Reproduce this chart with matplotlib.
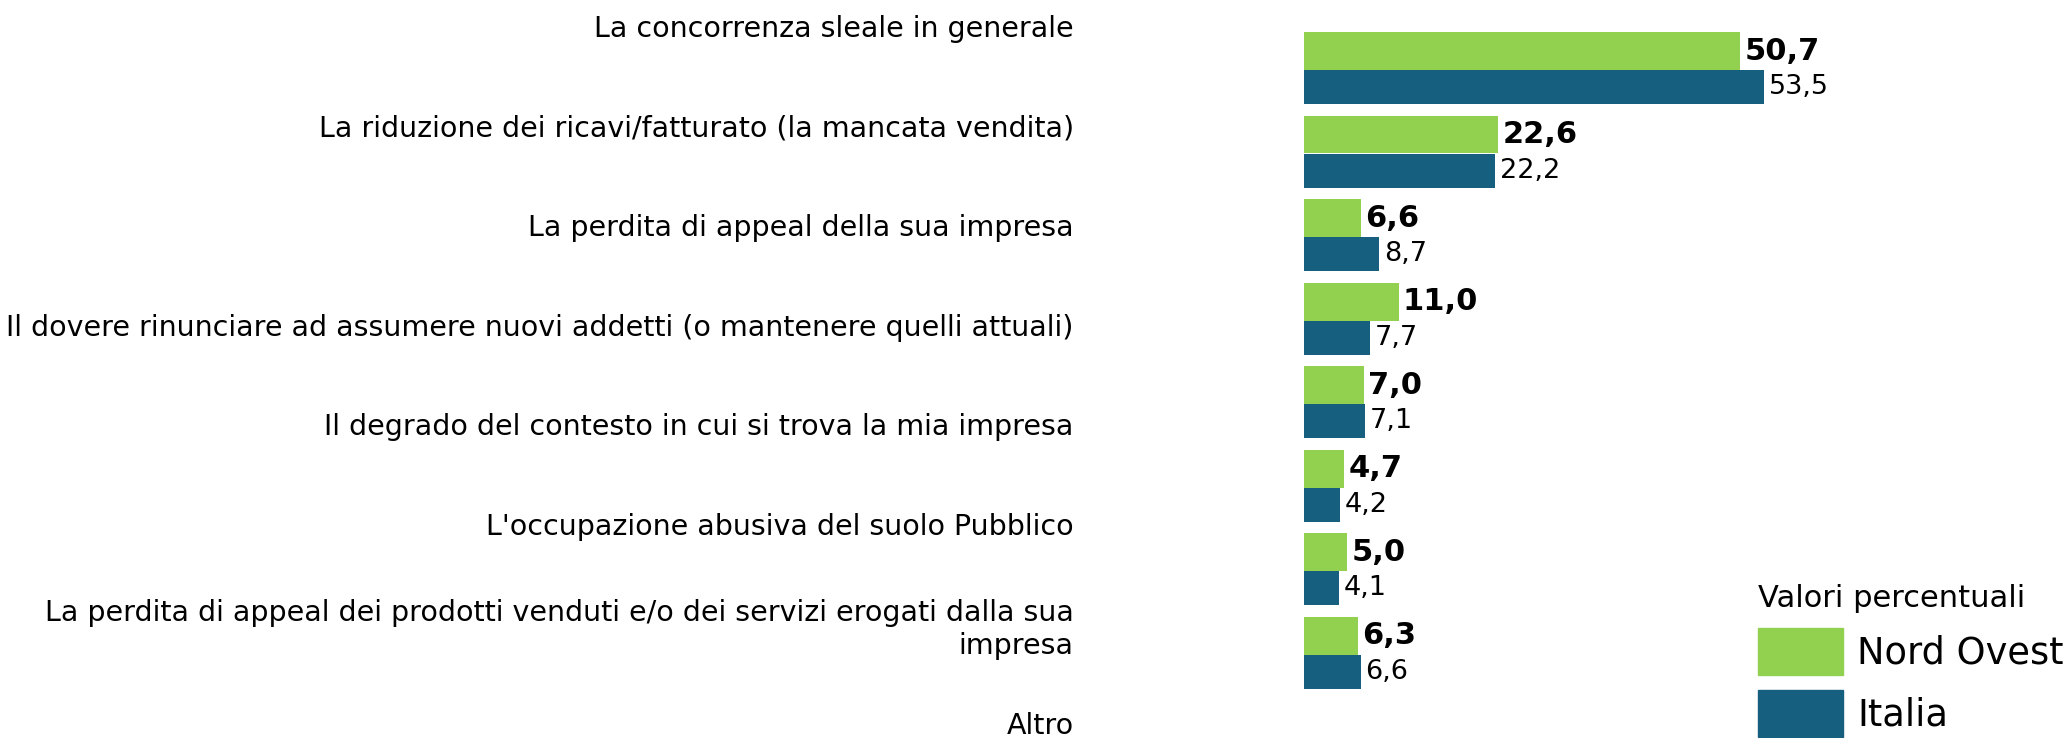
import matplotlib
matplotlib.use("Agg")
import matplotlib.pyplot as plt
from matplotlib.patches import Patch

categories = [
    "La concorrenza sleale in generale",
    "La riduzione dei ricavi/fatturato (la mancata vendita)",
    "La perdita di appeal della sua impresa",
    "Il dovere rinunciare ad assumere nuovi addetti (o mantenere quelli attuali)",
    "Il degrado del contesto in cui si trova la mia impresa",
    "L'occupazione abusiva del suolo Pubblico",
    "La perdita di appeal dei prodotti venduti e/o dei servizi erogati dalla sua\nimpresa",
    "Altro",
]
nord_ovest = [50.7, 22.6, 6.6, 11.0, 7.0, 4.7, 5.0, 6.3]
italia = [53.5, 22.2, 8.7, 7.7, 7.1, 4.2, 4.1, 6.6]
series_names = ["Nord Ovest", "Italia"]
legend_title = "Valori percentuali"

GREEN = "#92D050"
BLUE = "#175F7F"

W, H = 2070, 738
plt.rcParams["font.family"] = ["DejaVu Sans"]


def fmt(v):
    return f"{v:.1f}".replace(".", ",")


def main():
    fig = plt.figure(figsize=(W / 100, H / 100), dpi=100)

    # category labels (own axes, spacing differs from bar groups)
    ax_lab = fig.add_axes([1082 / W, 0, 20 / W, 1])
    ax_lab.set_ylim((H - 26) / 99.6, -26 / 99.6)
    ax_lab.set_yticks(range(len(categories)))
    ax_lab.set_yticklabels(categories, fontsize=20.5, linespacing=1.25)
    ax_lab.tick_params(axis="y", length=0, pad=6)
    ax_lab.set_xticks([])
    for s in ax_lab.spines.values():
        s.set_visible(False)
    ax_lab.patch.set_visible(False)

    # bars
    ax = fig.add_axes([1304 / W, 0, (W - 1304) / W, 1])
    ax.set_xlim(0, (W - 1304) / 8.6)
    ax.set_ylim((H - 70) / 83.5, -70 / 83.5)
    ys = list(range(len(nord_ovest)))
    ax.barh([y - 0.225 for y in ys], nord_ovest, height=0.45, color=GREEN)
    ax.barh([y + 0.205 for y in ys], italia, height=0.41, color=BLUE)
    for y, v in zip(ys, nord_ovest):
        ax.annotate(fmt(v), (v, y - 0.225), xytext=(3, 0), textcoords="offset points",
                    va="center", ha="left", fontsize=22, fontweight="bold")
    for y, v in zip(ys, italia):
        ax.annotate(fmt(v), (v, y + 0.205), xytext=(3.5, 0), textcoords="offset points",
                    va="center", ha="left", fontsize=19.5)
    ax.axis("off")

    handles = [Patch(color=GREEN), Patch(color=BLUE)]
    fig.legend(handles, series_names, title=legend_title,
               loc="upper left", bbox_to_anchor=(1758 / W, 1 - 584 / H),
               bbox_transform=fig.transFigure, frameon=False,
               fontsize=26.5, title_fontsize=22, alignment="left",
               borderpad=0, borderaxespad=0, handlelength=2.3,
               handleheight=1.6, handletextpad=0.4, labelspacing=0.4)

    fig.savefig("out.png", dpi=100)


if __name__ == "__main__":
    main()
